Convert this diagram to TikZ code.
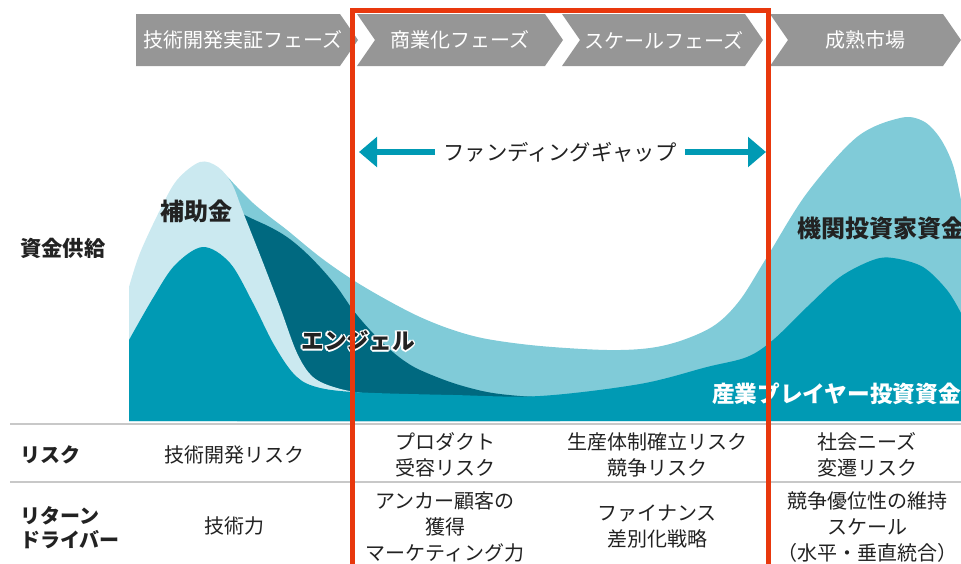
\documentclass[tikz,border=0pt]{standalone}
\usepackage{fontspec}
\setmainfont{Noto Sans CJK JP}
\usepackage{tikz}
\usetikzlibrary{arrows.meta}

\definecolor{phasegray}{RGB}{150,150,150}
\definecolor{framered}{RGB}{232,56,13}
\definecolor{tealmain}{RGB}{0,154,180}
\definecolor{tealmid}{RGB}{128,203,216}
\definecolor{teallight}{RGB}{203,233,240}
\definecolor{tealdark}{RGB}{0,105,128}
\definecolor{rulegray}{RGB}{200,200,200}
\definecolor{inkgray}{RGB}{34,34,34}

\tikzset{
  phase/.style={fill=phasegray},
  phaselabel/.style={text=white, inner sep=0pt, font=\fontsize{15}{18}\selectfont},
  gaptext/.style={text=inkgray, inner sep=6pt, font=\fontsize{16}{19}\selectfont},
  gaparrow/.style={draw=tealmain, line width=5pt, -{Triangle[length=13.5pt,width=22pt]}},
  layerlabel/.style={text=inkgray, inner sep=0pt, font=\bfseries\fontsize{18}{21}\selectfont},
  rowhead/.style={text=inkgray, anchor=west, align=left, inner sep=0pt, font=\bfseries\fontsize{15}{18}\selectfont},
  celltext/.style={text=inkgray, align=center, inner sep=0pt, font=\fontsize{15}{19.5}\selectfont},
  tablerule/.style={draw=rulegray, line width=1.5pt},
}

\begin{document}
\begin{tikzpicture}[x=0.75pt, y=-0.75pt]
        \useasboundingbox (0,0) rectangle (961,564);

        % Phases along the top
        \fill[phase] (136,14) -- (340,14) -- (358,40) -- (340,66) -- (136,66) -- cycle;
        \fill[phase] (357,14) -- (545,14) -- (563,40) -- (545,66) -- (357,66) -- (375,40) -- cycle;
        \fill[phase] (562,14) -- (745,14) -- (763,40) -- (745,66) -- (562,66) -- (580,40) -- cycle;
        \fill[phase] (770,14) -- (943,14) -- (961,40) -- (943,66) -- (770,66) -- (788,40) -- cycle;
        \node[phaselabel] (tech) at (243,40) {技術開発実証フェーズ};
        \node[phaselabel] (comm) at (460,40) {商業化フェーズ};
        \node[phaselabel] (scale) at (664,40) {スケールフェーズ};
        \node[phaselabel] (mature) at (865,40) {成熟市場};

        % Funding gap arrows
        \node[gaptext] (gap) at (560,152) {ファンディングギャップ};
        \coordinate (gapL) at (359,152);
        \coordinate (gapR) at (766,152);
        \draw[gaparrow] (gap.west) -- (gapL);
        \draw[gaparrow] (gap.east) -- (gapR);

        % Funding layers
        \fill[tealmid] (129,421) -- (129,300) -- plot[smooth, tension=0.55] coordinates {
          (129,300) (150,240) (175,190) (205,166) (222,172) (237,187) (253,203)
          (270,217) (287,230) (320,257) (353,280) (387,300) (420,317) (453,330)
          (487,339) (540,346) (607,350) (650,348) (683,340) (715,325) (740,300)
          (767,257) (807,193) (857,137) (900,118) (923,121) (940,138) (953,165) (961,200)}
          -- (961,421) -- cycle;
        \fill[tealdark] (237,421) -- (237,205) -- plot[smooth, tension=0.55] coordinates {
          (237,205) (243,214) (270,227) (287,237) (303,250) (320,267) (337,287)
          (353,310) (370,330) (387,347) (403,360) (420,370) (453,383) (487,392)
          (520,396) (560,398)}
          -- (560,421) -- cycle;
        \fill[teallight] (129,421) -- (129,287) -- plot[smooth, tension=0.55] coordinates {
          (129,287) (140,253) (160,210) (177,180) (200,162) (218,167) (232,184)
          (243,212) (262,260) (280,307) (297,353) (313,377) (337,388) (370,394) (420,397)}
          -- (420,421) -- cycle;
        \fill[tealmain] (129,421) -- (129,340) -- plot[smooth, tension=0.55] coordinates {
          (129,340) (153,298) (175,265) (203,247) (230,263) (253,303) (273,343)
          (293,373) (313,386) (353,392) (453,395) (540,396) (640,384) (707,367)
          (747,357) (773,340) (807,307) (840,277) (873,260) (893,258) (923,267)
          (947,290) (961,313)}
          -- (961,421) -- cycle;

        % Layer labels
        \node[layerlabel] (grant) at (196,211) {補助金};
        \foreach \a in {0,45,...,315}
          \node[layerlabel, font=\bfseries\fontsize{17}{20}\selectfont, text=white, shift={(\a:1.2pt)}] (angelhalo\a) at (358,341) {エンジェル};
        \node[layerlabel, font=\bfseries\fontsize{17}{20}\selectfont] (angel) at (358,341) {エンジェル};
        \node[layerlabel, anchor=west] (inst) at (797,228) {機関投資家資金};
        \node[layerlabel, anchor=west, text=white, font=\bfseries\fontsize{17}{20}\selectfont] (industry) at (712,394) {産業プレイヤー投資資金};
        \node[rowhead, font=\bfseries\fontsize{16}{19}\selectfont] (supply) at (20,248) {資金供給};

        % Table below the chart
        \draw[tablerule] (10,424) -- (961,424);
        \draw[tablerule] (10,482) -- (961,482);
        \node[rowhead] (risk) at (20,455) {リスク};
        \node[rowhead] (driver) at (20,528) {リターン\\ドライバー};
        \node[celltext] (risk1) at (234,455) {技術開発リスク};
        \node[celltext] (risk2) at (445,455) {プロダクト\\受容リスク};
        \node[celltext] (risk3) at (657,455) {生産体制確立リスク\\競争リスク};
        \node[celltext] (risk4) at (867,455) {社会ニーズ\\変遷リスク};
        \node[celltext] (drv1) at (234,526) {技術力};
        \node[celltext] (drv2) at (445,527) {アンカー顧客の\\獲得\\マーケティング力};
        \node[celltext] (drv3) at (657,526) {ファイナンス\\差別化戦略};
        \node[celltext] (drv4) at (867,527) {競争優位性の維持\\スケール\\（水平・垂直統合）};

        % Commercial and scale phases framed in red
        \draw[framered, line width=3.75pt] (352.5,575) -- (352.5,10) -- (768.5,10) -- (768.5,575);
    \end{tikzpicture}
\end{document}
